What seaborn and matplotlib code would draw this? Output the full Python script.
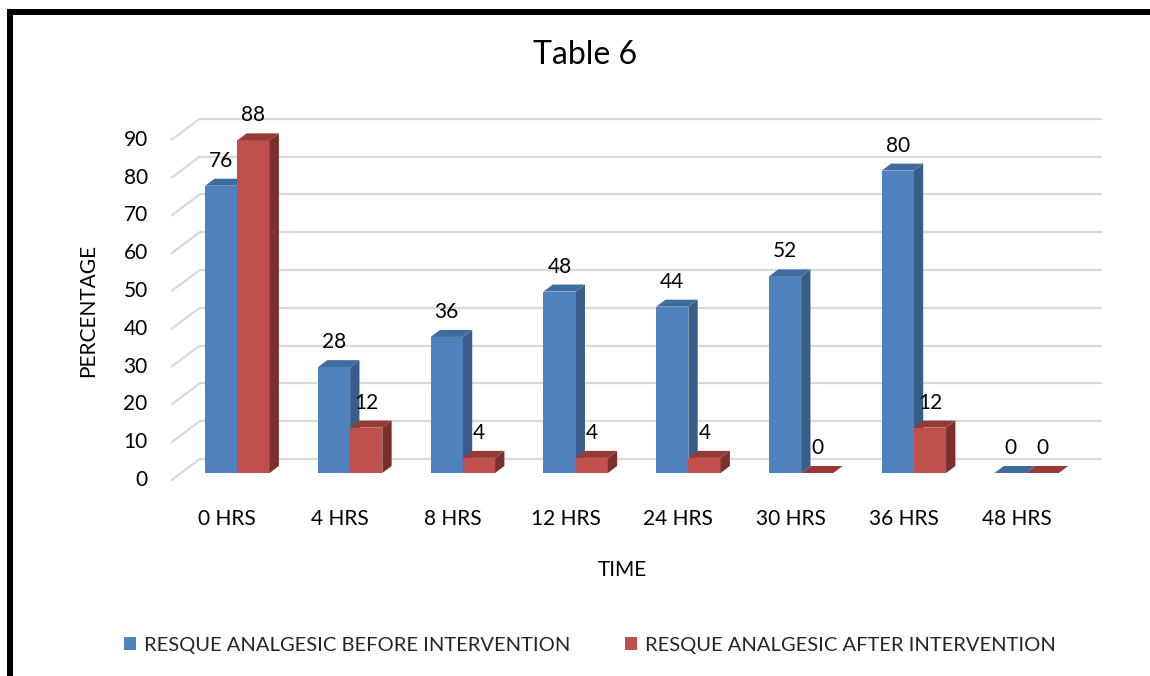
import numpy as np
import pandas as pd
import matplotlib
matplotlib.use("Agg")
import matplotlib.pyplot as plt
from matplotlib.patches import Polygon, Patch
from matplotlib.lines import Line2D
import seaborn as sns

# ---- data -------------------------------------------------------------
times = ["0 HRS", "4 HRS", "8 HRS", "12 HRS", "24 HRS", "30 HRS", "36 HRS", "48 HRS"]
before = [76, 28, 36, 48, 44, 52, 80, 0]
after = [88, 12, 4, 4, 4, 0, 12, 0]
series_names = ["RESQUE ANALGESIC BEFORE INTERVENTION", "RESQUE ANALGESIC AFTER INTERVENTION"]
y_ticks = [0, 10, 20, 30, 40, 50, 60, 70, 80, 90]

df = pd.DataFrame({
    "time": times * 2,
    "value": before + after,
    "series": [series_names[0]] * len(times) + [series_names[1]] * len(times),
})

# ---- style ------------------------------------------------------------
sns.set_theme(style="white")
plt.rcParams["font.family"] = ["Lato", "DejaVu Sans"]

front = ["#4F81BD", "#C0504D"]
side = ["#385D8A", "#7C302E"]
top = ["#3F6B9F", "#953A37"]
grid_col = "#D9D9D9"
DPI = 100
W, H = 1150, 676

fig = plt.figure(figsize=(W / DPI, H / DPI), dpi=DPI)
# axes rectangle in pixels (bar plane)
ax_l, ax_r, ax_b, ax_t = 181, 1083, 473, 95
ax = fig.add_axes([ax_l / W, (H - ax_b) / H, (ax_r - ax_l) / W, (ax_b - ax_t) / H])
ymax = 100
group_w = 0.571

sns.barplot(data=df, x="time", y="value", hue="series", palette=front,
            width=group_w, saturation=1, linewidth=0, ax=ax, legend=False,
            zorder=2, errorbar=None)
ax.set_xlim(-0.5, len(times) - 0.5)
ax.set_ylim(0, ymax)

# pixel -> data conversion factors
ppx = (ax_r - ax_l) / len(times)
ppy = (ax_b - ax_t) / ymax
dpx, dpy = 9.33, 7.0          # depth of a bar (pixels)
bx, by = 2 * dpx, 2 * dpy     # from bar plane to back wall
fx, fy = dpx, dpy             # from bar plane to front edge
ddx, ddy = dpx / ppx, dpy / ppy

# back wall gridlines and side-wall diagonals
for v in y_ticks:
    ax.plot([-0.5 + bx / ppx, len(times) - 0.5 + bx / ppx], [v + by / ppy] * 2,
            color=grid_col, lw=1.6, zorder=0, clip_on=False, solid_capstyle="butt")
    ax.plot([-0.5 - fx / ppx, -0.5 + bx / ppx], [v - fy / ppy, v + by / ppy],
            color=grid_col, lw=1.6, zorder=0, clip_on=False)
    ax.text(-0.5 - fx / ppx - 24 / ppx, v - fy / ppy, str(v), ha="right", va="center",
            fontsize=15, color="black")

# 3-D side and top faces, plus value labels
bw = group_w / 2
for si, vals in enumerate([before, after]):
    for i, v in enumerate(vals):
        x0 = i - group_w / 2 + si * bw
        x1 = x0 + bw
        z = 1.5 if si == 0 else 2.5
        if v > 0:
            ax.add_patch(Polygon([(x1, 0), (x1 + ddx, ddy), (x1 + ddx, v + ddy), (x1, v)],
                                 closed=True, facecolor=side[si], edgecolor="none",
                                 zorder=z, clip_on=False))
        ax.add_patch(Polygon([(x0, v), (x1, v), (x1 + ddx, v + ddy), (x0 + ddx, v + ddy)],
                             closed=True, facecolor=top[si], edgecolor="none",
                             zorder=z, clip_on=False))
        ax.text((x0 + x1) / 2, v + 25 / ppy, f"{v}", ha="center", va="center",
                fontsize=15, color="black", zorder=5, clip_on=False)

# category labels on the front edge
ax.set_xticks(range(len(times)))
ax.set_xticklabels([])
for i, t in enumerate(times):
    ax.text(i - 10 / ppx, -46 / ppy, t, ha="center", va="center", fontsize=15, color="black")
ax.set_yticks([])
ax.set_xlabel("")
ax.set_ylabel("")
for s in ax.spines.values():
    s.set_visible(False)
ax.tick_params(length=0)

# titles
fig.text(585 / W, 1 - 55 / H, "Table 6", ha="center", va="center", fontsize=23, color="black")
fig.text(622 / W, 1 - 570 / H, "TIME", ha="center", va="center", fontsize=15, color="black")
fig.text(88 / W, 1 - 310 / H, "PERCENTAGE", ha="center", va="center", rotation=90,
         fontsize=15, color="black")

# legend
handles = [Patch(facecolor=front[0], edgecolor="none"), Patch(facecolor=front[1], edgecolor="none")]
fig.legend(handles, series_names, loc="center", bbox_to_anchor=(590 / W, 1 - 645 / H),
           ncol=2, frameon=False, fontsize=14.5, handlelength=0.6, handleheight=0.6,
           handletextpad=0.4, columnspacing=2.7)

# outer frame (top and left edges)
fig.add_artist(Line2D([7 / W, 1.0], [1 - 12 / H] * 2, color="black", lw=4.3,
                      transform=fig.transFigure, solid_capstyle="butt"))
fig.add_artist(Line2D([10 / W] * 2, [0, 1 - 9 / H], color="black", lw=4.3,
                      transform=fig.transFigure, solid_capstyle="butt"))

fig.savefig("out.png", dpi=DPI, facecolor="white")
